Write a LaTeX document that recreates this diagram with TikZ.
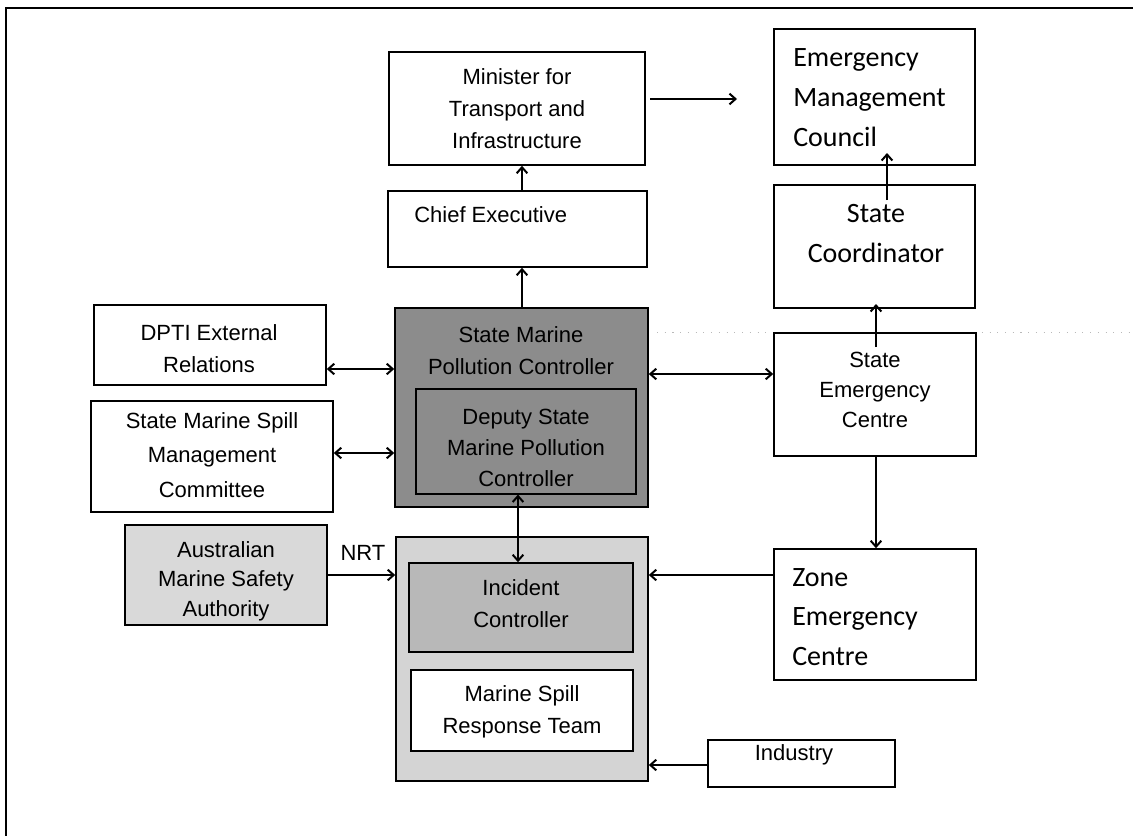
\documentclass[tikz,border=0pt]{standalone}
\usepackage{fontspec}
\setmainfont{Liberation Sans}
\newfontfamily\calibrifont{Carlito}
\usetikzlibrary{fit,arrows.meta}
\tikzset{
  cbox/.style={draw, line width=1.2pt, inner sep=0pt},
  txt/.style={inner sep=0pt, align=center, font=\fontsize{16.5}{24}\selectfont},
  ctxt/.style={inner sep=0pt, align=left, font=\calibrifont\fontsize{21}{30}\selectfont},
  arr/.style={line width=1.5pt, -{Straight Barb[length=4.5pt,width=8pt]}},
  darr/.style={line width=1.5pt, {Straight Barb[length=4.5pt,width=8pt]}-{Straight Barb[length=4.5pt,width=8pt]}},
}
\begin{document}
\begin{tikzpicture}[x=0.75pt,y=-0.75pt]
\useasboundingbox (0,0) rectangle (1133,836);
\fill[white] (0,0) rectangle (1133,836);
% outer frame
\draw[line width=2.2pt] (6,836) -- (6,8) -- (1133,8);
% faint dotted line
\draw[gray!55, line width=0.7pt, dash pattern=on 0.8pt off 5pt] (657,332) -- (1133,332);

% top row
\node[cbox, fit={(389,52) (645,165)}] (min) {};
\node[txt] (mint) at (517,108.5) {Minister for\\Transport and\\Infrastructure};
\node[cbox, fit={(774,29) (975,165)}] (emc) {};
\node[ctxt, anchor=west] (emct) at (793,98) {Emergency\\Management\\Council};
\node[cbox, fit={(388,191) (647,267)}] (chief) {};
\node[txt, anchor=west] (chieft) at (414,215) {Chief Executive};
\node[cbox, fit={(774,185) (975,308)}] (sc) {};
\node[ctxt, align=center] (sct) at (876,234) {State\\Coordinator};

% middle row
\node[cbox, fit={(94,305) (326,385)}] (dpti) {};
\node[txt] (dptit) at (209,349) {DPTI External\\Relations};
\node[cbox, fit={(91,401) (333,512)}] (smsmc) {};
\node[txt, font=\fontsize{16.5}{26}\selectfont] (smsmct) at (212,455) {State Marine Spill\\Management\\Committee};
\node[cbox, fill=black!45, fit={(395,308) (648,507)}] (smpc) {};
\node[txt] (smpct) at (521,351) {State Marine\\Pollution Controller};
\node[draw, line width=0.8pt, inner sep=0pt, fill=black!45, fit={(416,389) (636,494)}] (dep) {};
\node[txt, font=\fontsize{16.5}{23.5}\selectfont] (dept) at (526,448) {Deputy State\\Marine Pollution\\Controller};
\node[cbox, fit={(774,333) (976,456)}] (sec) {};
\node[txt, font=\fontsize{16.5}{22.5}\selectfont] (sect) at (875,390) {State\\Emergency\\Centre};

% bottom row
\node[cbox, fill=black!15, fit={(125,525) (327,625)}] (amsa) {};
\node[txt, font=\fontsize{16.5}{22}\selectfont] (amsat) at (226,581) {Australian\\Marine Safety\\Authority};
\node[txt] (nrt) at (363,553) {NRT};
\node[cbox, fill=black!17, fit={(396,537) (648,781)}] (outer) {};
\node[cbox, fill=black!28, fit={(409,563) (633,652)}] (inc) {};
\node[txt] (inct) at (521,604) {Incident\\Controller};
\node[cbox, fill=white, fit={(411,670) (633,751)}] (msrt) {};
\node[txt] (msrtt) at (522,711.5) {Marine Spill\\Response Team};
\node[cbox, fit={(774,549) (976,680)}] (zone) {};
\node[ctxt, anchor=west, font=\calibrifont\fontsize{21}{29.5}\selectfont] (zonet) at (792,617) {Zone\\Emergency\\Centre};
\node[cbox, fit={(708,740) (895,787)}] (ind) {};
\node[txt] (indt) at (794,755) {Industry};

% helper coordinates
\coordinate (cx) at (522,0);
\coordinate (ex) at (876,0);
\coordinate (dx) at (518,0);
\coordinate (yA) at (0,374);
\coordinate (yB) at (0,369);
\coordinate (yC) at (0,453);
\coordinate (yD) at (0,575);
\coordinate (yE) at (0,765);
\coordinate (m1) at (650,99);
\coordinate (m2) at (737,99);
\coordinate (s1) at (887,200);
\coordinate (s2) at (887,153);
\coordinate (e1) at (876,347);
\coordinate (e2) at (876,304);

% connectors
\draw[arr] (cx |- chief.north) -- (cx |- min.south);
\draw[arr] (cx |- smpc.north) -- (cx |- chief.south);
\draw[arr] (m1) -- (m2);
\draw[arr] (s1) -- (s2);
\draw[arr] (e1) -- (e2);
\draw[darr] (smpc.east |- yA) -- (sec.west |- yA);
\draw[darr] (dpti.east |- yB) -- (smpc.west |- yB);
\draw[darr] (smsmc.east |- yC) -- (smpc.west |- yC);
\draw[arr] (ex |- sec.south) -- (ex |- zone.north);
\draw[arr] (zone.west |- yD) -- (outer.east |- yD);
\draw[darr] (dx |- dep.south) -- (dx |- inc.north);
\draw[arr] (amsa.east |- yD) -- (outer.west |- yD);
\draw[arr] (ind.west |- yE) -- (outer.east |- yE);
\end{tikzpicture}
\end{document}
